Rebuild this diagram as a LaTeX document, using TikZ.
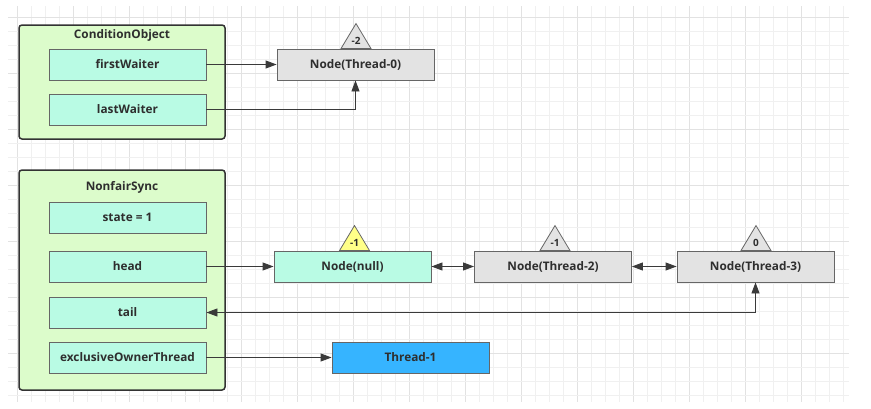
\documentclass[tikz,border=0pt]{standalone}
\usepackage{fontspec}
\setmainfont{Open Sans}
\usetikzlibrary{arrows.meta,calc}
\definecolor{gridmin}{HTML}{F0F0F0}
\definecolor{gridmaj}{HTML}{E2E2E2}
\definecolor{outerc}{HTML}{333333}
\definecolor{boxc}{HTML}{666666}
\definecolor{greenbg}{HTML}{DCFCCB}
\definecolor{aqua}{HTML}{B9FBE4}
\definecolor{graybox}{HTML}{E3E3E3}
\definecolor{yellowtri}{HTML}{FFFF88}
\definecolor{bluebox}{HTML}{36B4FF}
\definecolor{txt}{HTML}{2E2E2E}
\definecolor{linec}{HTML}{3A3A3A}
\begin{document}
\begin{tikzpicture}[x=1pt,y=-1pt,
  outerbox/.style={draw=outerc, line width=1.5pt, rounded corners=3pt, fill=greenbg, minimum width=206pt, inner sep=0},
  field/.style={draw=boxc, line width=0.9pt, fill=aqua, minimum width=157pt, minimum height=31pt, inner sep=0, font=\bfseries\fontsize{11.8}{14}\selectfont, text=txt},
  qnode/.style={field, fill=graybox},
  title/.style={font=\bfseries\fontsize{11.8}{14}\selectfont, text=txt, inner sep=0},
  conn/.style={draw=linec, line width=0.9pt, -{Triangle[length=11pt,width=8pt]}},
  conn2/.style={draw=linec, line width=0.9pt, {Triangle[length=11pt,width=8pt]}-{Triangle[length=11pt,width=8pt]}},
  tri/.style={draw=boxc, line width=0.8pt, fill=graybox},
  trilabel/.style={font=\bfseries\fontsize{10}{12}\selectfont, text=txt, inner sep=0}
]
\useasboundingbox (0,0) rectangle (871,408);
\fill[white] (0,0) rectangle (871,408);
% grid
\foreach \i in {0,...,59}{
  \pgfmathtruncatemacro\m{mod(\i,4)}
  \ifnum\m=0 \def\gc{gridmaj}\else\def\gc{gridmin}\fi
  \draw[\gc, line width=1pt] (17+14*\i,6) -- (17+14*\i,402);
}
\foreach \i in {0,...,27}{
  \pgfmathtruncatemacro\m{mod(\i,4)}
  \ifnum\m=0 \def\gc{gridmaj}\else\def\gc{gridmin}\fi
  \draw[\gc, line width=1pt] (8,17+14*\i) -- (849,17+14*\i);
}

% ConditionObject
\node[outerbox, minimum height=114pt] (cond) at (122,82) {};
\node[title] (condt) at (122,35) {ConditionObject};
\node[field] (fw) at (127.5,64.5) {firstWaiter};
\node[field] (lw) at (127.5,109.5) {lastWaiter};
\node[qnode] (t0) at (355.5,64.5) {Node(Thread-0)};
\coordinate (t0a) at ($(t0.north)+(0.5,0)$);
\draw[tri] ($(t0a)+(-15,0)$) -- ($(t0a)+(0,-25)$) -- ($(t0a)+(15,0)$) -- cycle;
\node[trilabel] (t0l) at ($(t0a)+(0,-8)$) {-2};
\draw[conn] (fw.east) -- (t0.west);
\draw[conn] (lw.east) -| (t0.south);

% NonfairSync
\node[outerbox, minimum height=220pt] (nfs) at (122,280) {};
\node[title] (nfst) at (122,187) {NonfairSync};
\node[field] (state) at (127.5,217.5) {state = 1};
\node[field] (head) at (127.5,266.5) {head};
\node[field] (tail) at (127.5,312.5) {tail};
\node[field] (excl) at (127.5,357.5) {exclusiveOwnerThread};

\node[field] (nnull) at (352.5,266.5) {Node(null)};
\coordinate (na) at ($(nnull.north)+(2,0)$);
\draw[tri, fill=yellowtri] ($(na)+(-15,0)$) -- ($(na)+(0,-25)$) -- ($(na)+(15,0)$) -- cycle;
\node[trilabel] (nl) at ($(na)+(0,-8)$) {-1};

\node[qnode] (t2) at (553,266.5) {Node(Thread-2)};
\coordinate (t2a) at ($(t2.north)+(2,0)$);
\draw[tri] ($(t2a)+(-15,0)$) -- ($(t2a)+(0,-25)$) -- ($(t2a)+(15,0)$) -- cycle;
\node[trilabel] (t2l) at ($(t2a)+(0,-8)$) {-1};

\node[qnode] (t3) at (755.5,266.5) {Node(Thread-3)};
\coordinate (t3a) at ($(t3.north)+(0.5,0)$);
\draw[tri] ($(t3a)+(-15,0)$) -- ($(t3a)+(0,-25)$) -- ($(t3a)+(15,0)$) -- cycle;
\node[trilabel] (t3l) at ($(t3a)+(0,-8)$) {0};

\node[field, fill=bluebox] (th1) at (410.5,357.5) {Thread-1};

\draw[conn] (head.east) -- (nnull.west);
\draw[conn2] (nnull.east) -- (t2.west);
\draw[conn2] (t2.east) -- (t3.west);
\draw[conn2] (tail.east) -| (t3.south);
\draw[conn] (excl.east) -- (th1.west);
\end{tikzpicture}
\end{document}
